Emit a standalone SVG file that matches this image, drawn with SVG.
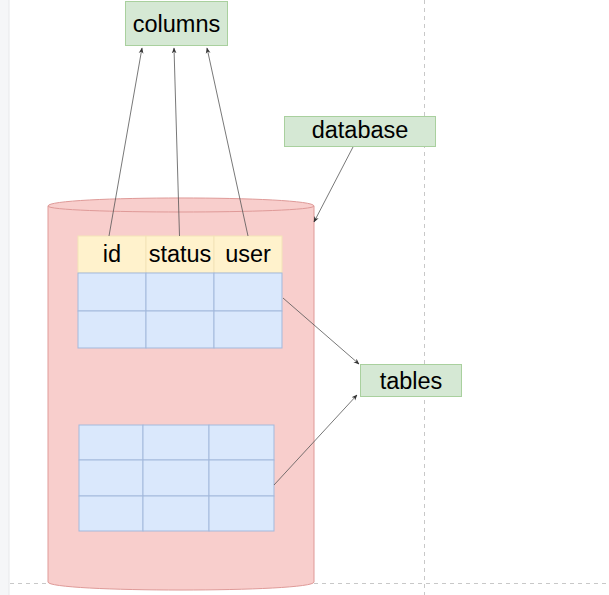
<svg xmlns="http://www.w3.org/2000/svg" width="609" height="595" viewBox="0 0 609 595">
  <style>
    .lbl { font-family: "Liberation Sans", Arial, sans-serif; font-size: 23.5px; fill: #000; text-anchor: middle; }
    .note { fill: #d5e8d4; stroke: #a9d09e; stroke-width: 1; }
    .grid { fill: none; stroke: #c8c8c8; stroke-width: 1; stroke-dasharray: 4 4; }
    .cell { fill: #dae8fc; stroke: #a3b9dc; stroke-width: 1; }
    .head { fill: #fff2cc; stroke: #f3e3b8; stroke-width: 1; }
    .conn { fill: none; stroke: #555; stroke-width: 0.8; marker-end: url(#arr); }
  </style>
  <defs>
    <marker id="arr" viewBox="0 0 10 10" refX="9" refY="5" markerWidth="6" markerHeight="6" markerUnits="userSpaceOnUse" orient="auto">
      <path d="M0,1 L10,5 L0,9 L3,5 Z" fill="#333"/>
    </marker>
  </defs>
  <rect width="609" height="595" fill="#ffffff"/>
  <rect x="0" y="0" width="9" height="595" fill="#f5f6f8"/>
  <line x1="9" y1="0" x2="9" y2="595" stroke="#e6e8eb" stroke-width="1"/>
  <g id="guides">
    <line class="grid" x1="424.5" y1="0" x2="424.5" y2="595"/>
    <line class="grid" x1="10" y1="583.5" x2="609" y2="583.5"/>
  </g>
  <g id="db-cylinder">
    <path d="M48,206 C48,195.3 314,195.3 314,206 L314,582 C314,592.7 48,592.7 48,582 Z" fill="#f8cecc" stroke="#df9a98" stroke-width="1"/>
    <path d="M48,206 C48,214 314,214 314,206" fill="none" stroke="#df9a98" stroke-width="1"/>
  </g>
  <g id="table1">
    <rect class="head" x="78" y="236" width="68" height="37"/>
    <rect class="head" x="146" y="236" width="68" height="37"/>
    <rect class="head" x="214" y="236" width="68" height="37"/>
    <rect class="cell" x="78" y="273" width="68" height="38"/>
    <rect class="cell" x="146" y="273" width="68" height="38"/>
    <rect class="cell" x="214" y="273" width="68" height="38"/>
    <rect class="cell" x="78" y="311" width="68" height="37"/>
    <rect class="cell" x="146" y="311" width="68" height="37"/>
    <rect class="cell" x="214" y="311" width="68" height="37"/>
    <text class="lbl" x="112" y="262">id</text>
    <text class="lbl" x="180" y="262">status</text>
    <text class="lbl" x="248" y="262">user</text>
  </g>
  <g id="table2">
    <rect class="cell" x="79" y="425" width="64" height="35"/>
    <rect class="cell" x="143" y="425" width="66" height="35"/>
    <rect class="cell" x="209" y="425" width="65" height="35"/>
    <rect class="cell" x="79" y="460" width="64" height="36"/>
    <rect class="cell" x="143" y="460" width="66" height="36"/>
    <rect class="cell" x="209" y="460" width="65" height="36"/>
    <rect class="cell" x="79" y="496" width="64" height="35"/>
    <rect class="cell" x="143" y="496" width="66" height="35"/>
    <rect class="cell" x="209" y="496" width="65" height="35"/>
  </g>
  <g id="columns">
    <rect class="note" x="125.5" y="1.5" width="102" height="44"/>
    <text class="lbl" x="176.5" y="31.5">columns</text>
  </g>
  <g id="database">
    <rect class="note" x="284.5" y="116.5" width="151" height="30"/>
    <text class="lbl" x="360" y="138">database</text>
  </g>
  <g id="tables">
    <rect class="note" x="360.5" y="364.5" width="101" height="32"/>
    <text class="lbl" x="411" y="389">tables</text>
  </g>
  <g id="connectors">
    <line class="conn" x1="109" y1="236" x2="142" y2="48"/>
    <line class="conn" x1="179.5" y1="236" x2="174" y2="48"/>
    <line class="conn" x1="248" y1="236" x2="207" y2="48"/>
    <line class="conn" x1="353" y1="147" x2="314" y2="222"/>
    <line class="conn" x1="283" y1="298" x2="359" y2="364"/>
    <line class="conn" x1="274" y1="485" x2="357" y2="395"/>
  </g>
</svg>
